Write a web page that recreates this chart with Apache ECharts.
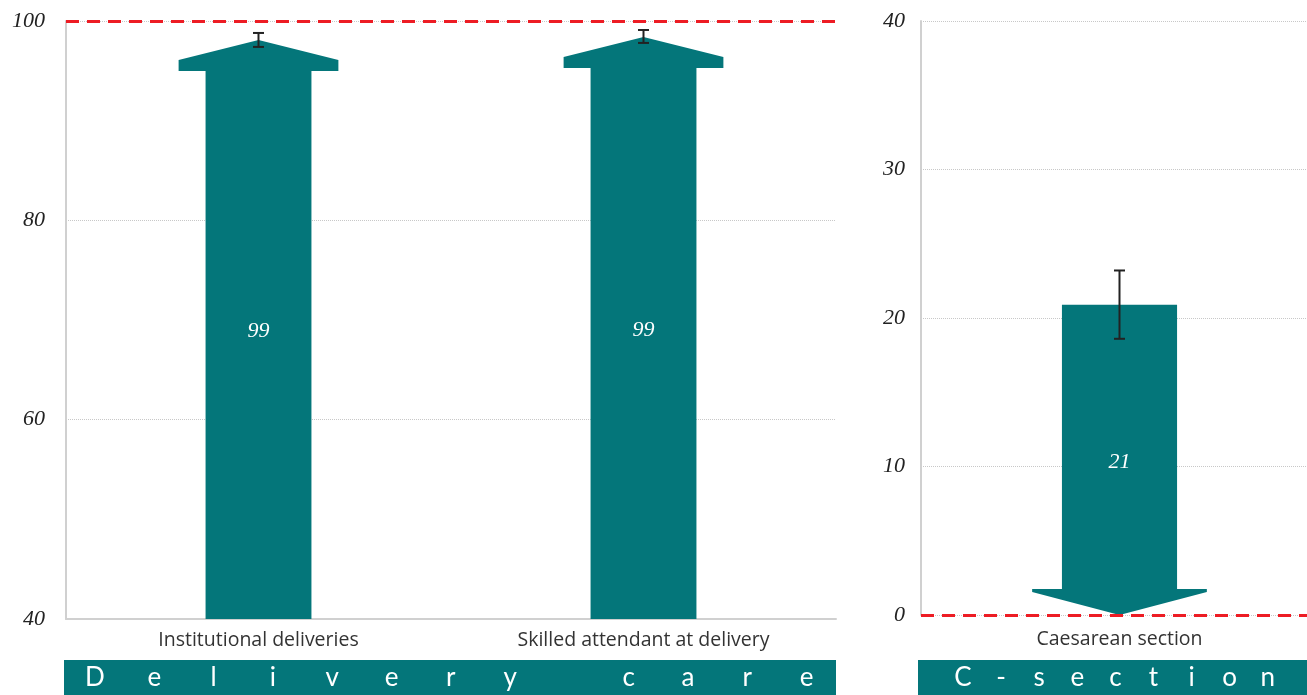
<!DOCTYPE html>
<html><head><meta charset="utf-8">
<script src="https://cdn.jsdelivr.net/npm/echarts@6/dist/echarts.min.js"></script>
<style>html,body{margin:0;padding:0;background:#fff;overflow:hidden}#c{width:1318px;height:695px}</style>
</head><body><div id="c"></div>
<script>
// ---- data ----
const deliveryCategories = ['Institutional deliveries', 'Skilled attendant at delivery'];
const deliveryValues = [98.1, 98.4];
const deliveryLabels = ['99', '99'];
const deliveryErrLow = [97.4, 97.8];
const deliveryErrHigh = [98.8, 99.1];
const csCategories = ['Caesarean section'];
const csValues = [20.9];
const csLabels = ['21'];
const csErrLow = [18.6];
const csErrHigh = [23.2];
const leftAxis = {min: 40, max: 100, interval: 20};
const rightAxis = {min: 0, max: 40, interval: 10};
const leftTarget = 100;
const rightTarget = 0;
const leftBanner = 'Delivery care';
const rightBanner = 'C-section';

// ---- styles ----
const TEAL = '#04767a';
const RED = '#ed1c24';
const valueFont = 'italic 22px "Liberation Serif", "DejaVu Serif", serif';

const chart = echarts.init(document.getElementById('c'), null, {renderer: 'canvas'});

function upArrow(labels, baseVal){
  return function(params, api){
    const cat = api.value(0), v = api.value(1);
    const tip = api.coord([cat, v]);
    const base = api.coord([cat, baseVal]);
    const band = api.size([1, 0])[0];
    const cx = tip[0], bw = band * 0.275, hw = band * 0.415;
    const ty = tip[1], by = base[1];
    const pts = [[cx-bw/2,by],[cx-bw/2,ty+31],[cx-hw/2,ty+31],[cx-hw/2,ty+20],[cx,ty],
                 [cx+hw/2,ty+20],[cx+hw/2,ty+31],[cx+bw/2,ty+31],[cx+bw/2,by]];
    return {type:'group', children:[
      {type:'polygon', shape:{points:pts}, style:{fill:TEAL}},
      {type:'text', x:cx, y:(ty+by)/2 + 2, style:{text:labels[params.dataIndex], fill:'#fff', font:valueFont, align:'center', verticalAlign:'middle'}}
    ]};
  };
}
function downArrow(labels, baseVal){
  return function(params, api){
    const cat = api.value(0), v = api.value(1);
    const top = api.coord([cat, v]);
    const tipP = api.coord([cat, baseVal]);
    const band = api.size([1, 0])[0];
    const cx = top[0], bw = band * 0.29, hw = band * 0.44;
    const ty = top[1], tp = tipP[1];
    const pts = [[cx-bw/2,ty],[cx-bw/2,tp-26],[cx-hw/2,tp-26],[cx-hw/2,tp-23],[cx,tp],
                 [cx+hw/2,tp-23],[cx+hw/2,tp-26],[cx+bw/2,tp-26],[cx+bw/2,ty]];
    return {type:'group', children:[
      {type:'polygon', shape:{points:pts}, style:{fill:TEAL}},
      {type:'text', x:cx, y:(ty+tp)/2 + 2, style:{text:labels[params.dataIndex], fill:'#fff', font:valueFont, align:'center', verticalAlign:'middle'}}
    ]};
  };
}
function errBar(params, api){
  const cat = api.value(0);
  const lo = api.coord([cat, api.value(1)]);
  const hi = api.coord([cat, api.value(2)]);
  const st = {stroke:'#222', lineWidth:2};
  const w = 5.5;
  return {type:'group', children:[
    {type:'line', shape:{x1:lo[0], y1:lo[1], x2:hi[0], y2:hi[1]}, style:st},
    {type:'line', shape:{x1:lo[0]-w, y1:lo[1], x2:lo[0]+w, y2:lo[1]}, style:st},
    {type:'line', shape:{x1:hi[0]-w, y1:hi[1], x2:hi[0]+w, y2:hi[1]}, style:st}
  ]};
}

const yLabel = {color:'#222', fontFamily:'"Liberation Serif", "DejaVu Serif", serif', fontStyle:'italic', fontSize:22, padding:[4,0,0,0]};
const xLabelFont = {color:'#333', fontFamily:'"Open Sans", Lato, sans-serif', fontSize:19.5};
const split = {show:true, lineStyle:{color:'#c8c8c8', type:'dotted', width:1}};

const option = {
  animation:false,
  grid:[
    {left:66, right:482, top:21, bottom:76},
    {left:921, right:0, top:21, bottom:80}
  ],
  xAxis:[
    {type:'category', gridIndex:0, data:deliveryCategories, axisTick:{show:false},
     axisLine:{show:true, lineStyle:{color:'#d0d0d0', width:2}}, axisLabel:Object.assign({margin:11}, xLabelFont)},
    {type:'category', gridIndex:1, data:csCategories, axisTick:{show:false},
     axisLine:{show:false}, axisLabel:Object.assign({margin:14}, xLabelFont)}
  ],
  yAxis:[
    {type:'value', gridIndex:0, min:leftAxis.min, max:leftAxis.max, interval:leftAxis.interval,
     axisLine:{show:true, lineStyle:{color:'#d0d0d0', width:2}}, axisTick:{show:false},
     axisLabel:Object.assign({margin:21}, yLabel), splitLine:split},
    {type:'value', gridIndex:1, min:rightAxis.min, max:rightAxis.max, interval:rightAxis.interval,
     axisLine:{show:true, lineStyle:{color:'#d0d0d0', width:2}}, axisTick:{show:false},
     axisLabel:Object.assign({margin:16}, yLabel), splitLine:split}
  ],
  series:[
    {type:'custom', xAxisIndex:0, yAxisIndex:0, renderItem:upArrow(deliveryLabels, leftAxis.min),
     data:deliveryValues.map((v,i)=>[i,v]), encode:{x:0,y:1}, z:2},
    {type:'custom', xAxisIndex:1, yAxisIndex:1, renderItem:downArrow(csLabels, rightAxis.min),
     data:csValues.map((v,i)=>[i,v]), encode:{x:0,y:1}, z:2},
    {type:'custom', xAxisIndex:0, yAxisIndex:0, renderItem:errBar,
     data:deliveryErrLow.map((v,i)=>[i,v,deliveryErrHigh[i]]), encode:{x:0,y:[1,2]}, z:4},
    {type:'custom', xAxisIndex:1, yAxisIndex:1, renderItem:errBar,
     data:csErrLow.map((v,i)=>[i,v,csErrHigh[i]]), encode:{x:0,y:[1,2]}, z:4},
    {type:'line', xAxisIndex:0, yAxisIndex:0, data:[], z:5,
     markLine:{silent:true, symbol:['none','none'], label:{show:false},
       lineStyle:{color:RED, width:3, type:[13,8]}, data:[{yAxis:leftTarget}]}},
    {type:'line', xAxisIndex:1, yAxisIndex:1, data:[], z:5,
     markLine:{silent:true, symbol:['none','none'], label:{show:false},
       lineStyle:{color:RED, width:3, type:[13,8]}, data:[{yAxis:rightTarget}]}}
  ]
};

// banners with letters spread across them
const graphics = [
  {type:'rect', left:64, top:660, shape:{width:772, height:40}, style:{fill:TEAL}, silent:true},
  {type:'rect', left:918, top:660, shape:{width:400, height:40}, style:{fill:TEAL}, silent:true}
];
const bannerFont = '26px Lato, "Open Sans", sans-serif';
leftBanner.split('').forEach((ch, i) => {
  graphics.push({type:'text', x:95 + i * 59.3, y:678, silent:true,
    style:{text:ch, fill:'#fff', font:bannerFont, align:'center', verticalAlign:'middle'}});
});
rightBanner.split('').forEach((ch, i) => {
  graphics.push({type:'text', x:963 + i * 38.1, y:678, silent:true,
    style:{text:ch, fill:'#fff', font:bannerFont, align:'center', verticalAlign:'middle'}});
});
option.graphic = graphics;
chart.setOption(option);
</script></body></html>
